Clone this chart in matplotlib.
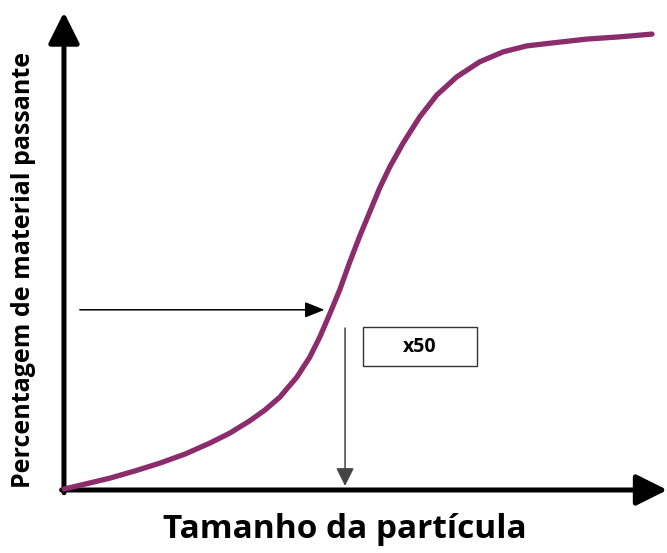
import matplotlib
matplotlib.use("Agg")
import matplotlib.pyplot as plt
from matplotlib.patches import Rectangle

# Grading curve: particle size vs. cumulative percentage passing
tamanho = [0, 3.6, 7.8, 12.1, 16.3, 20.6, 24.8, 28.2, 31.6, 34.2, 36.7, 39.6,
           41.8, 43.5, 45.2, 46.9, 48.6, 50.3, 52.0, 53.7, 55.4, 57.7, 60.5,
           63.4, 66.8, 70.7, 74.7, 78.7, 82.7, 88.9, 94.6, 100]
passante = [0.2, 1.3, 2.6, 4.2, 5.9, 7.9, 10.3, 12.5, 15.2, 17.6, 20.4, 24.8,
            29.2, 33.6, 38.7, 44.0, 50.1, 55.8, 61.1, 66.4, 71.0, 76.3, 82.0,
            86.8, 90.8, 94.1, 96.3, 97.6, 98.2, 99.1, 99.6, 100.2]

y50 = 39.6
x50 = 47.8
x50_label = "x50"

fig = plt.figure(figsize=(6.67, 5.53), dpi=100)
ax = fig.add_axes([0, 0, 1, 1])
ax.set_xlim(-10.88, 102.55)
ax.set_ylim(-13.85, 107.69)
ax.axis("off")

font = ["Open Sans", "DejaVu Sans"]

# axes with arrow heads
axis_style = dict(arrowstyle="-|>,head_length=19,head_width=9.5", mutation_scale=1,
                  color="black", lw=3.6, shrinkA=0, shrinkB=0)
ax.annotate("", xy=(0, 105.0), xytext=(0, -0.6), arrowprops=axis_style)
ax.annotate("", xy=(102.6, 0), xytext=(-0.4, 0), arrowprops=axis_style)

# the curve
ax.plot(tamanho, passante, color="#8b2d6c", lw=3.8, solid_capstyle="round",
        solid_joinstyle="round", zorder=3)

# horizontal arrow to the curve
ax.annotate("", xy=(44.3, y50), xytext=(2.7, y50),
            arrowprops=dict(arrowstyle="-|>,head_length=12,head_width=4.8", mutation_scale=1,
                            color="black", lw=1.1, shrinkA=0, shrinkB=0))
# vertical arrow down to the size axis
ax.annotate("", xy=(x50, 0.9), xytext=(x50, 35.6),
            arrowprops=dict(arrowstyle="-|>,head_length=11,head_width=5.5", mutation_scale=1,
                            color="#444444", lw=1.1, shrinkA=0, shrinkB=0))

# label box
ax.add_patch(Rectangle((50.8, 27.3), 19.4, 8.6, fill=False, edgecolor="#333333", lw=1.0))
ax.text(60.5, 31.5, x50_label, ha="center", va="center", fontsize=14,
        fontweight="bold", family=font)

ax.text(-6.8, 48.3, "Percentagem de material passante", rotation=90, ha="center",
        va="center", fontsize=18, fontweight="bold", family=font)
ax.text(47.8, -8.6, "Tamanho da partícula", ha="center", va="center", fontsize=24,
        fontweight="bold", family=font)

fig.savefig("out.png", dpi=100)
